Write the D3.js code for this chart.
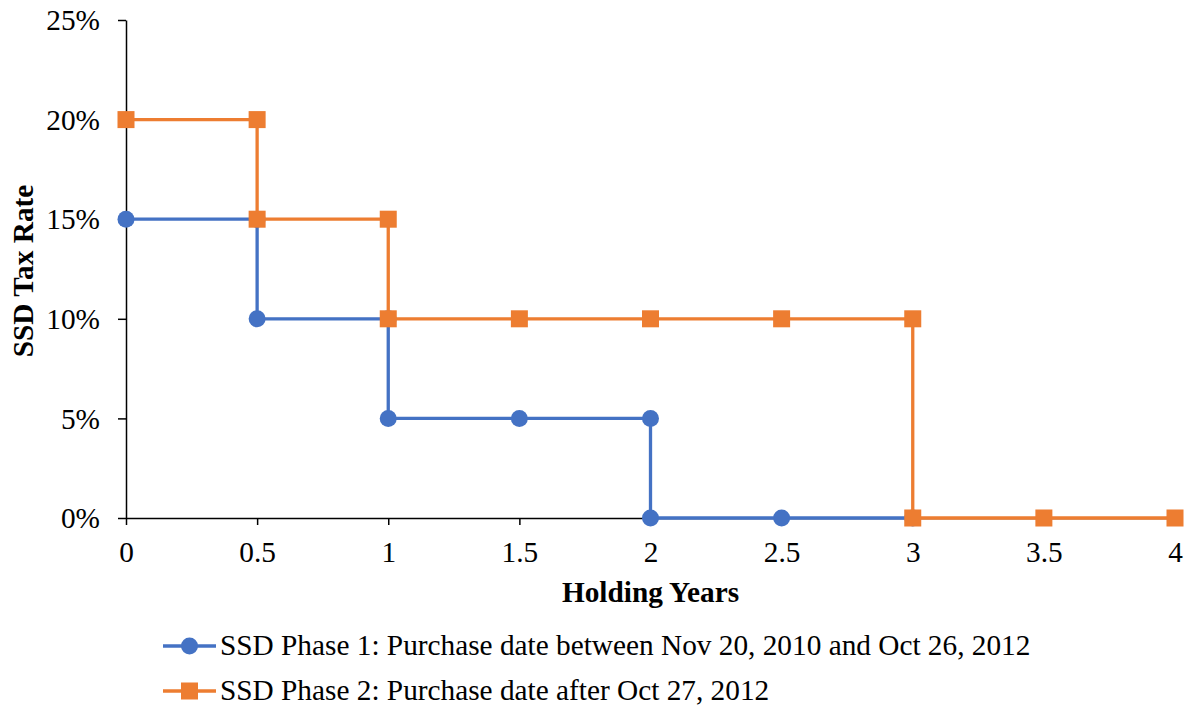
<!DOCTYPE html>
<html>
<head>
<meta charset="utf-8">
<script src="https://cdn.jsdelivr.net/npm/d3@7"></script>
<style>
  html, body { margin: 0; padding: 0; background: #fff; }
  svg { display: block; font-family: "Liberation Serif", "Times New Roman", serif; }
</style>
</head>
<body>
<svg id="chart" width="1192" height="711"></svg>
<script>
// Holding period (years) and SSD rate (%) for each step point
const phase1Years = [0, 0.5, 0.5, 1, 1, 1.5, 2, 2, 2.5, 3];
const phase1Rates = [15, 15, 10, 10, 5, 5, 5, 0, 0, 0];
const phase2Years = [0, 0.5, 0.5, 1, 1, 1.5, 2, 2.5, 3, 3, 3.5, 4];
const phase2Rates = [20, 20, 15, 15, 10, 10, 10, 10, 10, 0, 0, 0];

const xTicks = [0, 0.5, 1, 1.5, 2, 2.5, 3, 3.5, 4];
const yTicks = [0, 5, 10, 15, 20, 25];

const seriesNames = [
  "SSD Phase 1: Purchase date between Nov 20, 2010 and Oct 26, 2012",
  "SSD Phase 2: Purchase date after Oct 27, 2012"
];

const series = [
  { name: seriesNames[0], pts: phase1Years.map((x, i) => ({ x, y: phase1Rates[i] })), color: "#4472C4", shape: "circle" },
  { name: seriesNames[1], pts: phase2Years.map((x, i) => ({ x, y: phase2Rates[i] })), color: "#ED7D31", shape: "square" }
];

const FONT = 29.3;
const svg = d3.select("#chart");
const x = d3.scaleLinear().domain([0, 4]).range([126, 1175]);
const y = d3.scaleLinear().domain([0, 25]).range([518, 20]);

// Y axis
const yAxis = svg.append("g")
  .attr("transform", `translate(${x(0)},0)`)
  .call(d3.axisLeft(y).tickValues(yTicks).tickFormat(d => d + "%").tickSize(8).tickSizeOuter(0));
yAxis.select(".domain").attr("stroke", "#000").attr("stroke-width", 1.5);
yAxis.selectAll(".tick line").attr("stroke", "#000").attr("stroke-width", 1.5);
yAxis.selectAll(".tick text")
  .attr("x", -26).attr("dy", "0.33em")
  .attr("font-size", FONT).attr("fill", "#000")
  .attr("font-family", "Liberation Serif, serif");

// X axis
const xAxis = svg.append("g")
  .attr("transform", `translate(0,${y(0)})`)
  .call(d3.axisBottom(x).tickValues(xTicks).tickFormat(d3.format("")).tickSize(7).tickSizeOuter(0));
xAxis.select(".domain").attr("stroke", "#000").attr("stroke-width", 1.5);
xAxis.selectAll(".tick line").attr("stroke", "#000").attr("stroke-width", 1.5);
xAxis.selectAll(".tick text")
  .attr("y", 44).attr("dy", 0)
  .attr("font-size", FONT).attr("fill", "#000")
  .attr("font-family", "Liberation Serif, serif");

// Axis titles
svg.append("text")
  .attr("transform", `translate(33,${(y(0) + y(25)) / 2 + 2}) rotate(-90)`)
  .attr("text-anchor", "middle")
  .attr("font-size", FONT).attr("font-weight", "bold")
  .text("SSD Tax Rate");

svg.append("text")
  .attr("x", x(2)).attr("y", 602)
  .attr("text-anchor", "middle")
  .attr("font-size", FONT).attr("font-weight", "bold")
  .text("Holding Years");

const line = d3.line().x(d => x(d.x)).y(d => y(d.y));

function drawMarker(g, cx, cy, s) {
  if (s.shape === "circle") {
    g.append("circle").attr("cx", cx).attr("cy", cy).attr("r", 8.5).attr("fill", s.color);
  } else {
    g.append("rect").attr("x", cx - 8.5).attr("y", cy - 8.5).attr("width", 17).attr("height", 17).attr("fill", s.color);
  }
}

series.forEach(s => {
  const g = svg.append("g");
  g.append("path").datum(s.pts)
    .attr("d", line)
    .attr("fill", "none")
    .attr("stroke", s.color)
    .attr("stroke-width", 3.3)
    .attr("stroke-linejoin", "round");
  s.pts.forEach(p => drawMarker(g, x(p.x), y(p.y), s));
});

// Legend
const legendRows = [646, 691];
series.forEach((s, i) => {
  const g = svg.append("g");
  const ly = legendRows[i];
  g.append("line")
    .attr("x1", 163).attr("x2", 216).attr("y1", ly).attr("y2", ly)
    .attr("stroke", s.color).attr("stroke-width", 3.3);
  drawMarker(g, 189.5, ly, s);
  g.append("text")
    .attr("x", 220).attr("y", ly + 9)
    .attr("font-size", FONT).attr("fill", "#000")
    .text(s.name);
});
</script>
</body>
</html>
